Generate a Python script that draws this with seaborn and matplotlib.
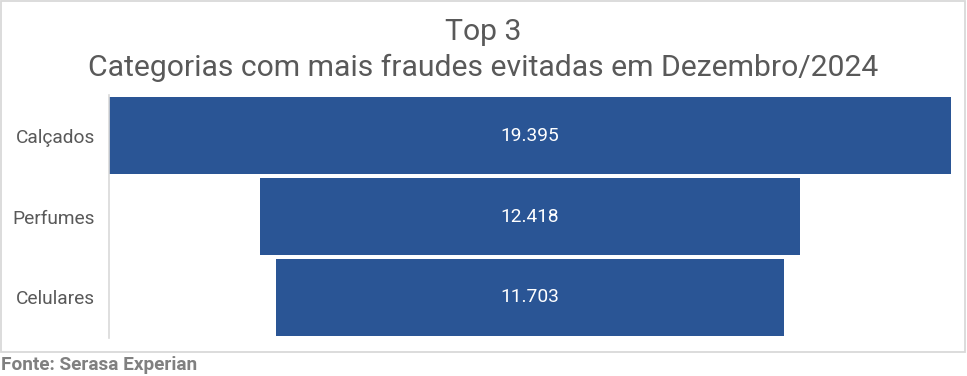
import matplotlib
matplotlib.use("Agg")
import matplotlib.pyplot as plt
import seaborn as sns
import pandas as pd
from matplotlib.patches import Rectangle

# --- data ---
categorias = ["Calçados", "Perfumes", "Celulares"]
fraudes = [19395, 12418, 11703]
rotulos = ["19.395", "12.418", "11.703"]

df = pd.DataFrame({"categoria": categorias, "fraudes": fraudes})

sns.set_style("white")
plt.rcParams["font.family"] = ["Roboto", "DejaVu Sans"]

W, H = 967, 376
fig = plt.figure(figsize=(W / 100, H / 100), dpi=100)
ax = fig.add_axes([109 / W, 1 - 338 / H, (951 - 109) / W, (338 - 95) / H])

azul = "#2a5595"
sns.barplot(data=df, x="fraudes", y="categoria", orient="h", color=azul,
            saturation=1, width=0.94, ax=ax)

# center bars to make the funnel shape
maximo = max(fraudes)
for p, v, txt in zip(ax.patches, fraudes, rotulos):
    p.set_x((maximo - v) / 2)
    p.set_edgecolor("none")
    ax.text(maximo / 2, p.get_y() + p.get_height() / 2, txt, color="white",
            ha="center", va="center", fontsize=13.8)

ax.set_xlim(0, maximo)
ax.set_ylim(2.5, -0.5)
ax.set_xlabel("")
ax.set_ylabel("")
ax.set_xticks([])
ax.tick_params(axis="y", length=0, pad=10, labelsize=13.8, labelcolor="#595959")
for s in ["top", "right", "bottom"]:
    ax.spines[s].set_visible(False)
ax.spines["left"].set_color("#d9d9d9")
ax.spines["left"].set_linewidth(1.2)

fig.text(483 / W, 1 - 32 / H, "Top 3", ha="center", va="center",
         fontsize=21.7, color="#595959")
fig.text(483 / W, 1 - 68 / H, "Categorias com mais fraudes evitadas em Dezembro/2024",
         ha="center", va="center", fontsize=21.7, color="#595959")

# chart border
fig.patches.append(Rectangle((1 / W, 1 - 352 / H), 964 / W, 351 / H,
                             transform=fig.transFigure, fill=False,
                             edgecolor="#d9d9d9", linewidth=1.3))
fig.text(1 / W, 1 - 365 / H, "Fonte: Serasa Experian", ha="left", va="center",
         fontsize=13.7, fontweight="bold", color="#808080")

fig.savefig("out.png", dpi=100)
